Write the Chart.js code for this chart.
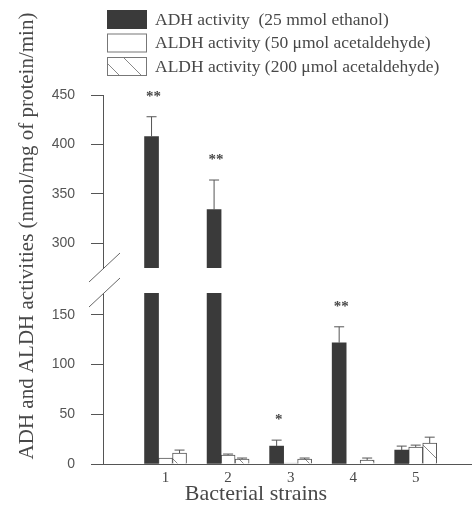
<!DOCTYPE html>
<html>
<head>
<meta charset="utf-8">
<script src="https://cdn.jsdelivr.net/npm/chart.js@4/dist/chart.umd.min.js"></script>
<style>
html, body { margin: 0; padding: 0; background: #fff; }
#wrap { position: relative; width: 472px; height: 515px; }
#wrap canvas { position: absolute; left: 0; top: 0; }
</style>
</head>
<body>
<div id="wrap">
  <canvas id="lower" width="472" height="515"></canvas>
  <canvas id="upper" width="472" height="515"></canvas>
</div>
<script>
// data
var strains = [1, 2, 3, 4, 5];
var seriesNames = ['ADH activity  (25 mmol ethanol)', 'ALDH activity (50 \u03bcmol acetaldehyde)', 'ALDH activity (200 \u03bcmol acetaldehyde)'];
var adh = [408, 334, 18, 122, 14];
var adhErr = [20, 30, 6, 16, 4];
var aldh50 = [6, 9, 1, 0, 17];
var aldh50Err = [0, 1, 0, 0, 2];
var aldh200 = [11, 5, 5, 4, 21];
var aldh200Err = [3, 1, 1, 2, 6];
var signif = ['**', '**', '*', '**', ''];
var lowerTicks = [0, 50, 100, 150];
var upperTicks = [300, 350, 400, 450];
var lowerRange = [0, 172];
var upperRange = [275, 450];

var ink = '#484848';
var serif = '"Liberation Serif", "Times New Roman", serif';

// hatch for the 200 umol series
function makeHatch() {
  var c = document.createElement('canvas');
  c.width = 22; c.height = 22;
  var g = c.getContext('2d');
  g.fillStyle = '#fff';
  g.fillRect(0, 0, 22, 22);
  g.strokeStyle = '#888';
  g.lineWidth = 1;
  g.beginPath();
  g.moveTo(-2, -2); g.lineTo(24, 24);
  g.stroke();
  return g.createPattern(c, 'repeat');
}
var hatch = makeHatch();

function buildDatasets() {
  function pts(vals) {
    return strains.map(function (s, i) { return {x: s, y: vals[i]}; });
  }
  return [
    {label: seriesNames[0], data: pts(adh), errors: adhErr, backgroundColor: '#3a3a3a', borderWidth: 0, clip: 0},
    {label: seriesNames[1], data: pts(aldh50), errors: aldh50Err, backgroundColor: '#fff', borderColor: '#555', borderWidth: 1, clip: 0},
    {label: seriesNames[2], data: pts(aldh200), errors: aldh200Err, backgroundColor: hatch, borderColor: '#555', borderWidth: 1, clip: 0}
  ];
}

var errorBars = {
  id: 'errorBars',
  afterDatasetsDraw: function (chart) {
    var ctx = chart.ctx, a = chart.chartArea, y = chart.scales.y;
    ctx.save();
    ctx.beginPath();
    ctx.rect(a.left, a.top - 1, a.right - a.left, a.bottom - a.top + 1);
    ctx.clip();
    ctx.strokeStyle = '#555';
    ctx.lineWidth = 1;
    chart.data.datasets.forEach(function (ds, d) {
      chart.getDatasetMeta(d).data.forEach(function (bar, j) {
        var e = ds.errors[j];
        if (!e) return;
        var v = ds.data[j].y;
        var y0 = y.getPixelForValue(v), y1 = y.getPixelForValue(v + e);
        ctx.beginPath();
        ctx.moveTo(bar.x, y0); ctx.lineTo(bar.x, y1);
        ctx.moveTo(bar.x - 5, y1); ctx.lineTo(bar.x + 5, y1);
        ctx.stroke();
      });
    });
    ctx.restore();
    // significance marks above the ADH bars
    ctx.save();
    ctx.fillStyle = ink;
    ctx.font = 'bold 15px ' + serif;
    ctx.textAlign = 'center';
    ctx.textBaseline = 'middle';
    var ds0 = chart.data.datasets[0];
    chart.getDatasetMeta(0).data.forEach(function (bar, j) {
      var top = ds0.data[j].y + ds0.errors[j];
      if (!signif[j] || top < y.min || top > y.max) return;
      ctx.fillText(signif[j], bar.x + 2, y.getPixelForValue(top) - 20);
    });
    ctx.restore();
  }
};

var legendBox = {
  id: 'legendBox',
  afterDraw: function (chart) {
    var ctx = chart.ctx;
    ctx.save();
    ctx.font = '17.5px ' + serif;
    ctx.textBaseline = 'middle';
    ctx.fillStyle = ink;
    chart.data.datasets.forEach(function (ds, i) {
      var top = 10 + i * 23.5;
      ctx.fillStyle = ds.backgroundColor;
      ctx.fillRect(107, top, 40, 19);
      if (ds.borderWidth) {
        ctx.strokeStyle = '#777';
        ctx.lineWidth = 1;
        ctx.strokeRect(107.5, top + 0.5, 39, 18);
      }
      ctx.fillStyle = ink;
      ctx.fillText(ds.label, 155, top + 10);
    });
    ctx.restore();
  }
};

var frame = {
  id: 'frame',
  afterDraw: function (chart) {
    var ctx = chart.ctx, a = chart.chartArea;
    ctx.save();
    ctx.fillStyle = ink;
    // y title
    ctx.font = '21px ' + serif;
    ctx.textAlign = 'center';
    ctx.textBaseline = 'middle';
    ctx.translate(27, 236);
    ctx.rotate(-Math.PI / 2);
    ctx.fillText('ADH and ALDH activities (nmol/mg of protein/min)', 0, 0);
    ctx.restore();
    ctx.save();
    ctx.fillStyle = ink;
    ctx.font = '22px ' + serif;
    ctx.textAlign = 'center';
    ctx.textBaseline = 'alphabetic';
    ctx.fillText('Bacterial strains', 256, 500);
    // axis break marks
    var ax = a.left;
    ctx.strokeStyle = '#666';
    ctx.lineWidth = 1;
    [269, 294].forEach(function (yc) {
      ctx.beginPath();
      ctx.moveTo(ax - 14, yc + 13);
      ctx.lineTo(ax + 17, yc - 16);
      ctx.stroke();
    });
    ctx.restore();
  }
};

function yAxis(range, ticks) {
  return {
    min: range[0],
    max: range[1],
    afterBuildTicks: function (s) { s.ticks = ticks.map(function (v) { return {value: v}; }); },
    afterFit: function (s) { s.width = 103; },
    border: {display: true, color: '#555', width: 1},
    grid: {drawOnChartArea: false, drawTicks: true, tickLength: 12, color: '#555'},
    ticks: {padding: 16, color: '#555', font: {family: '"Liberation Sans", Arial, sans-serif', size: 14}}
  };
}

function xAxis(show) {
  return {
    type: 'linear',
    offset: false,
    min: 0,
    max: 5.9,
    display: show,
    afterBuildTicks: function (s) { s.ticks = strains.map(function (v) { return {value: v}; }); },
    afterFit: function (s) { s.height = show ? 51 : 0; },
    border: {display: true, color: '#555', width: 1},
    grid: {display: false, drawTicks: false},
    ticks: {padding: 5, color: ink, font: {family: serif, size: 15}}
  };
}

function baseOptions(range, ticks, showX, pad) {
  return {
    responsive: false,
    animation: false,
    layout: {padding: pad},
    plugins: {legend: {display: false}, tooltip: {enabled: false}},
    datasets: {bar: {barThickness: 14}},
    scales: {x: xAxis(showX), y: yAxis(range, ticks)}
  };
}

new Chart(document.getElementById('lower'), {
  type: 'bar',
  data: {datasets: buildDatasets()},
  options: baseOptions(lowerRange, lowerTicks, true, {top: 293, bottom: 0, left: 0, right: 0}),
  plugins: [errorBars, frame]
});

new Chart(document.getElementById('upper'), {
  type: 'bar',
  data: {datasets: buildDatasets()},
  options: baseOptions(upperRange, upperTicks, false, {top: 95, bottom: 247, left: 0, right: 0}),
  plugins: [errorBars, legendBox]
});
</script>
</body>
</html>
